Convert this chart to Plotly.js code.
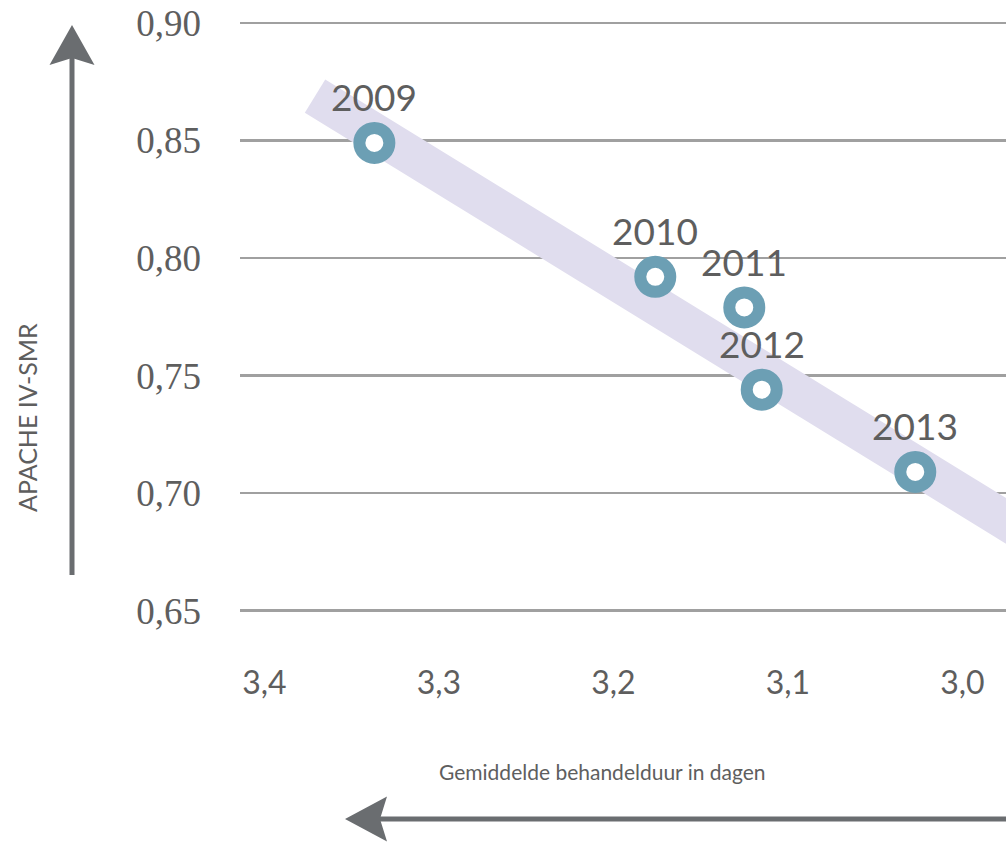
<!DOCTYPE html>
<html>
<head>
<meta charset="utf-8">
<script src="https://cdn.plot.ly/plotly-3.0.1.min.js"></script>
<style>
html,body{margin:0;padding:0;background:#fff;}
#chart{width:1006px;height:842px;}
</style>
</head>
<body>
<div id="chart"></div>
<script>
// ---- data ----
const years = ["2009", "2010", "2011", "2012", "2013"];
const behandelduur = [3.337, 3.176, 3.125, 3.115, 3.027];
const smr = [0.849, 0.792, 0.779, 0.744, 0.709];
const trendX = [3.371, 2.95];
const trendY = [0.8689, 0.6768];
const xTickVals = [3.4, 3.3, 3.2, 3.1, 3.0];
const xTickText = ["3,4", "3,3", "3,2", "3,1", "3,0"];
const yTickVals = [0.65, 0.70, 0.75, 0.80, 0.85, 0.90];
const yTickText = ["0,65", "0,70", "0,75", "0,80", "0,85", "0,90"];
const xTitle = "Gemiddelde behandelduur in dagen";
const yTitle = "APACHE IV-SMR";

// ---- layout helpers (pixel -> paper) ----
const W = 1006, H = 842, ML = 240, MR = 0, MT = 0, MB = 199;
const PW = W - ML - MR, PH = H - MT - MB;
const px = X => (X - ML) / PW;
const py = Y => (MT + PH - Y) / PH;
const textGray = "#5e5e5e";
const arrowGray = "#6a6d70";

const traces = [
  {
    x: trendX, y: trendY, mode: "lines", type: "scatter",
    line: {color: "#e0ddee", width: 39},
    hoverinfo: "skip", showlegend: false
  },
  {
    x: behandelduur, y: smr, mode: "markers", type: "scatter",
    marker: {size: 30, color: "#ffffff", line: {color: "#6c9fb4", width: 12}},
    hoverinfo: "skip", showlegend: false, cliponaxis: false
  }
];

const annotations = years.map((yr, i) => ({
  x: behandelduur[i], y: smr[i], xref: "x", yref: "y",
  text: yr, showarrow: false, yshift: 46, yanchor: "middle",
  font: {family: "Lato, 'Open Sans', sans-serif", size: 37, color: textGray}
}));
annotations.push({
  xref: "paper", yref: "paper", x: px(602), y: py(771),
  text: xTitle, showarrow: false, xanchor: "center", yanchor: "middle",
  font: {family: "Lato, 'Open Sans', sans-serif", size: 21, color: textGray}
});
annotations.push({
  xref: "paper", yref: "paper", x: px(27), y: py(418),
  text: yTitle, showarrow: false, textangle: -90, xanchor: "center", yanchor: "middle",
  font: {family: "Lato, 'Open Sans', sans-serif", size: 25, color: textGray}
});

const shapes = [
  // vertical arrow
  {type: "line", xref: "paper", yref: "paper", x0: px(72), x1: px(72), y0: py(575), y1: py(58),
   line: {color: arrowGray, width: 5}},
  {type: "path", xref: "paper", yref: "paper",
   path: `M${px(72)},${py(25)} L${px(49.5)},${py(65)} L${px(72)},${py(58)} L${px(94.5)},${py(65)} Z`,
   fillcolor: arrowGray, line: {width: 0}},
  // horizontal arrow
  {type: "line", xref: "paper", yref: "paper", x0: px(380), x1: px(1010), y0: py(819), y1: py(819),
   line: {color: arrowGray, width: 5}},
  {type: "path", xref: "paper", yref: "paper",
   path: `M${px(345)},${py(819)} L${px(387)},${py(796.5)} L${px(380)},${py(819)} L${px(387)},${py(841.5)} Z`,
   fillcolor: arrowGray, line: {width: 0}}
];

const layout = {
  width: W, height: H,
  margin: {l: ML, r: MR, t: MT, b: MB, pad: 0},
  paper_bgcolor: "#ffffff", plot_bgcolor: "#ffffff",
  showlegend: false,
  xaxis: {
    range: [3.414, 2.975], tickvals: xTickVals, ticktext: xTickText,
    showgrid: false, zeroline: false, showline: false, ticks: "",
    ticklabelstandoff: 18,
    tickfont: {family: "Lato, 'Open Sans', sans-serif", size: 32, color: textGray}
  },
  yaxis: {
    range: [0.6362, 0.9098], tickvals: yTickVals, ticktext: yTickText,
    showgrid: true, gridcolor: "#a0a0a0", gridwidth: 2.5,
    zeroline: false, showline: false, ticks: "",
    ticklabelstandoff: 38,
    tickfont: {family: "'Liberation Serif', serif", size: 37, color: textGray}
  },
  annotations: annotations,
  shapes: shapes,
  hovermode: false
};

Plotly.newPlot("chart", traces, layout, {staticPlot: true, displayModeBar: false});
</script>
</body>
</html>
